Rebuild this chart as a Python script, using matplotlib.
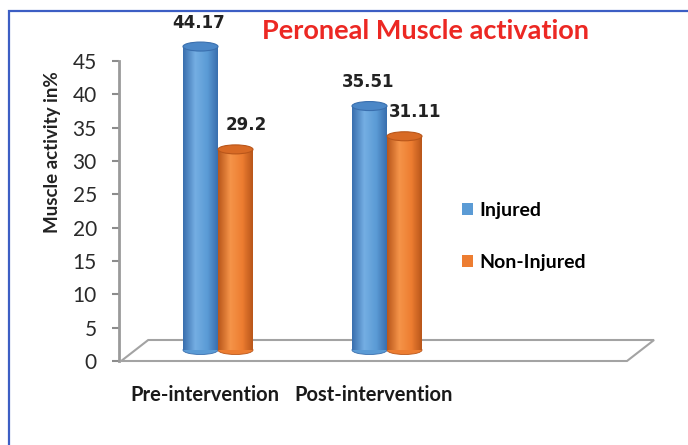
import numpy as np
import matplotlib.pyplot as plt
from matplotlib.patches import Ellipse, Polygon, Rectangle
from matplotlib.colors import LinearSegmentedColormap

# data
categories = ["Pre-intervention", "Post-intervention"]
series = ["Injured", "Non-Injured"]
injured = [44.17, 35.51]
non_injured = [29.2, 31.11]
y_ticks = list(range(0, 50, 5))

# (edge, body, highlight, cap)
palette = {
    "Injured": ("#3a6fae", "#5b9bd5", "#74aee3", "#4b87c7"),
    "Non-Injured": ("#b9561a", "#ed7d31", "#f59449", "#d86a25"),
}

W, H = 688, 445
FONT = "Lato"


def fx(px):
    return px / W


def fy(py):
    return 1 - py / H


fig = plt.figure(figsize=(W / 100, H / 100), dpi=100)
fig.patch.set_facecolor("white")

# outer blue frame (only left/top visible in the original)
fig.patches.append(Rectangle((fx(9), -0.2), 1.5, fy(11) + 0.2, transform=fig.transFigure,
                             fill=False, edgecolor="#3c5ec4", lw=1.6))

# axis with the tick scale
ax_left, ax_right, ax_top, ax_bot = 119, 660, 61, 361
ax = fig.add_axes([fx(ax_left), fy(ax_bot), (ax_right - ax_left) / W, (ax_bot - ax_top) / H])
ax.set_facecolor("none")
ax.set_ylim(0, 45)
ax.set_xlim(0, 1)
ax.set_yticks(y_ticks)
ax.set_xticks([])
for s in ["top", "right", "bottom"]:
    ax.spines[s].set_visible(False)
ax.spines["left"].set_color("#9a9a9a")
ax.spines["left"].set_linewidth(2)
ax.tick_params(axis="y", direction="out", length=5, width=1.5, color="#8c8c8c",
               labelsize=15, pad=11, labelcolor="#2a2a2a")
for t in ax.get_yticklabels():
    t.set_fontfamily(FONT)

# 3D-like floor
floor = Polygon([(0.004, 0.0), (0.939, 0.0), (0.989, 0.07), (0.054, 0.07)], closed=True,
                transform=ax.transAxes, fill=False, edgecolor="#a3a3a3", lw=1.5, clip_on=False)
ax.add_patch(floor)

# axis for the cylinders (sits in the middle depth of the floor)
base_px, px_per_unit = 350, 6.87
group_px = [218, 387]
unit_px = group_px[1] - group_px[0]
bx = fig.add_axes([fx(ax_left), fy(ax_bot), (ax_right - ax_left) / W, (ax_bot - 11) / H])
bx.set_facecolor("none")
for s in bx.spines.values():
    s.set_visible(False)

x = np.arange(len(categories))
w = 35 / unit_px
ell_h = 9 / px_per_unit
label_dx = [-0.01, 0.065]
label_dy = 3.5
handles = []
for k, (name, vals) in enumerate(zip(series, [injured, non_injured])):
    edge, body, light, cap = palette[name]
    cmap = LinearSegmentedColormap.from_list(name, [(0, edge), (0.35, light), (0.7, body), (1, edge)])
    xs = x + (k - 0.5) * w
    bars = bx.bar(xs, vals, width=w, color=body, label=name, zorder=2, linewidth=0)
    handles.append(bars)
    for b, v in zip(bars, vals):
        x0 = b.get_x()
        cx = x0 + w / 2
        bx.add_patch(Ellipse((cx, 0), w, ell_h, facecolor=body, edgecolor=edge, lw=0.6, zorder=1.5))
        im = bx.imshow(np.linspace(0, 1, 64).reshape(1, -1), cmap=cmap, extent=[x0, x0 + w, 0, v],
                       aspect="auto", zorder=3, interpolation="bilinear")
        im.set_clip_path(b)
        bx.add_patch(Ellipse((cx, v), w, ell_h, facecolor=cap, edgecolor=edge, lw=0.8, zorder=4))
        bx.text(cx + label_dx[k], v + label_dy, f"{v:g}", ha="center", va="center",
                fontsize=12, fontweight="bold", fontfamily="DejaVu Sans", color="#222222")

bx.set_xlim((ax_left - group_px[0]) / unit_px, (ax_right - group_px[0]) / unit_px)
bx.set_ylim(-(ax_bot - base_px) / px_per_unit, (base_px - 11) / px_per_unit)
bx.set_yticks([])
bx.set_xticks(x - 13 / unit_px, categories)
bx.tick_params(axis="x", length=0, pad=17, labelsize=14.5, labelcolor="#1a1a1a")
for t in bx.get_xticklabels():
    t.set_fontfamily(FONT)
    t.set_fontweight("bold")

bx.legend(handles=handles, labels=series, loc="upper left", bbox_to_anchor=(fx(452), fy(192)),
          bbox_transform=fig.transFigure, frameon=False, handlelength=0.6, handleheight=0.6,
          handletextpad=0.3, labelspacing=1.8, borderpad=0,
          prop={"family": FONT, "weight": "bold", "size": 14})

fig.text(fx(426), fy(31), "Peroneal Muscle activation", ha="center", va="center",
         fontsize=19.5, fontweight="bold", fontfamily=FONT, color="#ec2823")
fig.text(fx(53), fy(152), "Muscle activity in%", rotation=90, ha="center", va="center",
         fontsize=13.5, fontweight="bold", fontfamily=FONT, color="#222222")

fig.savefig("out.png", dpi=100, facecolor="white")
